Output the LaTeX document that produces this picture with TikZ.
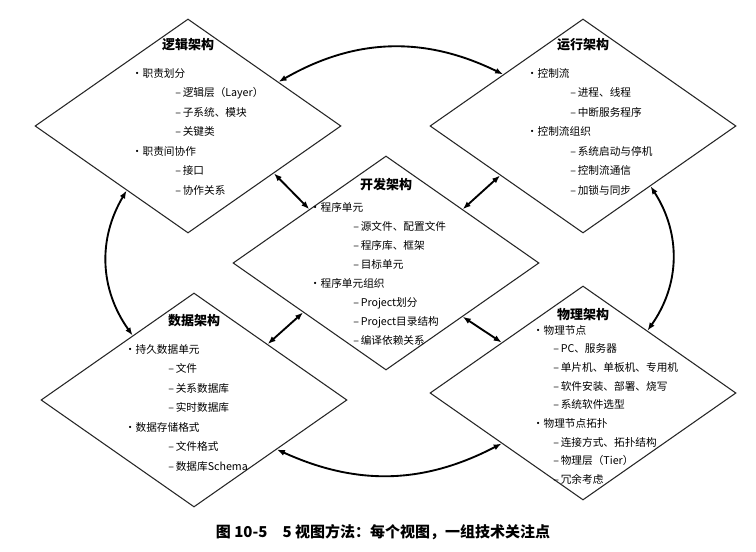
\documentclass[tikz,border=0pt]{standalone}
\usepackage{fontspec}
\setmainfont{Noto Sans CJK SC}
\usepackage{tikz}
\usetikzlibrary{arrows.meta,positioning,shapes.geometric,calc}
\tikzset{
  view/.style={diamond, draw=black!85, line width=0.8pt, minimum width=229.5pt, minimum height=160.5pt, inner sep=0pt},
  viewtitle/.style={font=\fontsize{9.75}{11}\selectfont\bfseries},
  viewlist/.style={anchor=north west, align=left, inner sep=0pt, font=\fontsize{8}{14.6}\selectfont},
  arrlink/.style={{Latex[length=6pt,width=4.5pt]}-{Latex[length=6pt,width=4.5pt]}, line width=1.4pt},
}
\newcommand{\itm}[1]{\makebox[5.5pt][l]{\hspace*{-2.5pt}•}#1}
\newcommand{\subitm}[2][30pt]{\hspace*{#1}–\,#2}

\begin{document}
\begin{tikzpicture}[x=0.75pt, y=-0.75pt]
\useasboundingbox (0,0) rectangle (756,552);

% the five views
\node[view] (lg) at (188,126) {};
\node[view] (rt) at (583,126) {};
\node[view] (dev) at (386,263) {};
\node[view] (dt) at (194,400) {};
\node[view] (ph) at (583,393) {};

\node[viewtitle] (lgtitle) at ($(lg)+(0,-81)$) {逻辑架构};
\node[viewlist] (lglist) at ($(lg)+(-53,-58)$) {\itm{职责划分}\\ \subitm{逻辑层（Layer）}\\ \subitm{子系统、模块}\\ \subitm{关键类}\\ \itm{职责间协作}\\ \subitm{接口}\\ \subitm{协作关系}};

\node[viewtitle] (rttitle) at ($(rt)+(0,-81)$) {运行架构};
\node[viewlist] (rtlist) at ($(rt)+(-53,-58)$) {\itm{控制流}\\ \subitm{进程、线程}\\ \subitm{中断服务程序}\\ \itm{控制流组织}\\ \subitm{系统启动与停机}\\ \subitm{控制流通信}\\ \subitm{加锁与同步}};

\node[viewtitle] (devtitle) at ($(dev)+(0,-78)$) {开发架构};
\node[viewlist, font=\fontsize{8}{14.3}\selectfont] (devlist) at ($(dev)+(-73,-61)$) {\itm{程序单元}\\ \subitm{源文件、配置文件}\\ \subitm{程序库、框架}\\ \subitm{目标单元}\\ \itm{程序单元组织}\\ \subitm{Project划分}\\ \subitm{Project目录结构}\\ \subitm{编译依赖关系}};

\node[viewtitle] (dttitle) at ($(dt)+(0,-79)$) {数据架构};
\node[viewlist] (dtlist) at ($(dt)+(-66,-56)$) {\itm{持久数据单元}\\ \subitm{文件}\\ \subitm{关系数据库}\\ \subitm{实时数据库}\\ \itm{数据存储格式}\\ \subitm{文件格式}\\ \subitm{数据库Schema}};

\node[viewtitle] (phtitle) at ($(ph)+(0,-78)$) {物理架构};
\node[viewlist, font=\fontsize{8}{14}\selectfont] (phlist) at ($(ph)+(-47,-68)$) {\itm{物理节点}\\ \subitm[12.75pt]{PC、服务器}\\ \subitm[12.75pt]{单片机、单板机、专用机}\\ \subitm[12.75pt]{软件安装、部署、烧写}\\ \subitm[12.75pt]{系统软件选型}\\ \itm{物理节点拓扑}\\ \subitm[12.75pt]{连接方式、拓扑结构}\\ \subitm[12.75pt]{物理层（Tier）}\\ \subitm[12.75pt]{冗余考虑}};

% links to the development view
\draw[arrlink] ($(lg.east)!0.44!(lg.south)$) -- ($(dev.north)!0.5!(dev.west)$);
\draw[arrlink] ($(rt.west)!0.46!(rt.south)$) -- ($(dev.north)!0.5!(dev.east)$);
\draw[arrlink] ($(dt.north)!0.48!(dt.east)$) -- ($(dev.west)!0.46!(dev.south)$);
\draw[arrlink] ($(ph.north)!0.53!(ph.west)$) -- ($(dev.east)!0.5!(dev.south)$);

% links round the outside
\draw[arrlink] ($(lg.north)!0.59!(lg.east)$) to[bend left=28] ($(rt.west)!0.48!(rt.north)$);
\draw[arrlink] ($(rt.south)!0.44!(rt.east)$) to[bend left=34] ($(ph.north)!0.42!(ph.east)$);
\draw[arrlink] ($(lg.west)!0.6!(lg.south)$) to[bend right=33] ($(dt.north)!0.4!(dt.west)$);
\draw[arrlink] ($(dt.east)!0.46!(dt.south)$) to[bend right=26] ($(ph.west)!0.47!(ph.south)$);

\node[font=\fontsize{11.25}{13}\selectfont\bfseries] (caption) at (383,532) {图 10-5\quad 5 视图方法：每个视图，一组技术关注点};
\end{tikzpicture}
\end{document}
